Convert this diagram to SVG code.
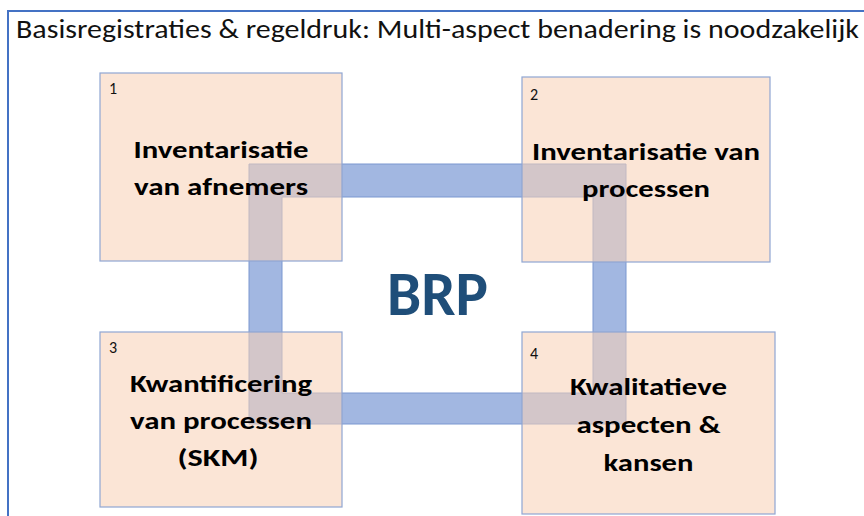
<svg xmlns="http://www.w3.org/2000/svg" width="864" height="516" viewBox="0 0 864 516">
  <style>
    .title { font-family: Carlito, "Open Sans", "Noto Sans", sans-serif; font-size: 27px; fill: #111111; }
    .lbl { font-family: Carlito, "Open Sans", "Noto Sans", sans-serif; font-weight: bold; font-size: 25px; fill: #000000; text-anchor: middle; }
    .num { font-family: Carlito, "Open Sans", "Noto Sans", sans-serif; font-size: 16px; fill: #111111; }
    .box { fill: rgb(248,209,183); fill-opacity: 0.57; stroke: #8fa6d3; stroke-width: 1.2; }
    .ring { fill: #a2b7e1; stroke: #7a97d0; stroke-width: 1; fill-rule: evenodd; }
    .brp { font-family: Carlito, "Open Sans", "Noto Sans", sans-serif; font-weight: bold; font-size: 62px; fill: #1f4e79; }
  </style>
  <rect x="0" y="0" width="864" height="516" fill="#ffffff"/>
  <g id="frame">
    <line x1="7" y1="11" x2="864" y2="11" stroke="#4472c4" stroke-width="2"/>
    <line x1="8" y1="11" x2="8" y2="516" stroke="#4472c4" stroke-width="2"/>
  </g>
  <g id="title">
    <text class="title" x="16" y="37.5" textLength="843" lengthAdjust="spacingAndGlyphs">Basisregistraties &amp; regeldruk: Multi-aspect benadering is noodzakelijk</text>
  </g>
  <g id="connectors">
    <path class="ring" d="M249,164 H626 V424 H249 Z M282,197 V393 H593 V197 Z"/>
  </g>
  <g id="node1">
    <rect class="box" x="100" y="73" width="242" height="188"/>
    <text class="num" x="109" y="94">1</text>
    <text class="lbl" x="221" y="158" textLength="175" lengthAdjust="spacingAndGlyphs">Inventarisatie</text>
    <text class="lbl" x="221" y="195" textLength="174" lengthAdjust="spacingAndGlyphs">van afnemers</text>
  </g>
  <g id="node2">
    <rect class="box" x="522" y="77" width="248" height="185"/>
    <text class="num" x="530" y="100">2</text>
    <text class="lbl" x="646" y="160" textLength="228" lengthAdjust="spacingAndGlyphs">Inventarisatie van</text>
    <text class="lbl" x="646" y="197" textLength="128" lengthAdjust="spacingAndGlyphs">processen</text>
  </g>
  <g id="node3">
    <rect class="box" x="100" y="332" width="242" height="175"/>
    <text class="num" x="109" y="353">3</text>
    <text class="lbl" x="221" y="392" textLength="182" lengthAdjust="spacingAndGlyphs">Kwantificering</text>
    <text class="lbl" x="221" y="429" textLength="182" lengthAdjust="spacingAndGlyphs">van processen</text>
    <text class="lbl" x="218" y="466" textLength="81" lengthAdjust="spacingAndGlyphs">(SKM)</text>
  </g>
  <g id="node4">
    <rect class="box" x="522" y="332" width="253" height="182"/>
    <text class="num" x="530" y="359">4</text>
    <text class="lbl" x="648.5" y="395" textLength="157" lengthAdjust="spacingAndGlyphs">Kwalitatieve</text>
    <text class="lbl" x="648.5" y="433" textLength="144" lengthAdjust="spacingAndGlyphs">aspecten &amp;</text>
    <text class="lbl" x="648.5" y="471" textLength="90" lengthAdjust="spacingAndGlyphs">kansen</text>
  </g>
  <g id="brp">
    <text class="brp" x="387" y="315" textLength="101" lengthAdjust="spacingAndGlyphs">BRP</text>
  </g>
</svg>
